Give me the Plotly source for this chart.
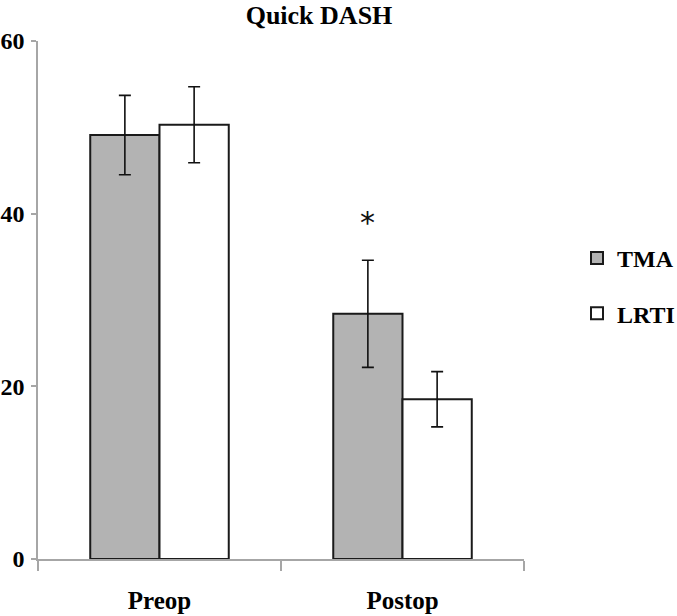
import plotly.graph_objects as go

categories = ["Preop", "Postop"]
series_names = ["TMA", "LRTI"]
tma_values = [49.1, 28.4]
tma_errors = [4.6, 6.2]
lrti_values = [50.3, 18.5]
lrti_errors = [4.4, 3.2]
y_ticks = [0, 20, 40, 60]
sig_category_index = 1   # Postop
sig_series_index = 0     # TMA
sig_y = 39.0
title_text = "Quick DASH"

FONT = "Liberation Serif"
BARGAP = 0.43

fig = go.Figure()
fills = ["#b3b3b3", "#ffffff"]
for i, (name, vals, errs) in enumerate(zip(series_names, [tma_values, lrti_values], [tma_errors, lrti_errors])):
    fig.add_trace(go.Bar(
        name=name, x=categories, y=vals,
        marker=dict(color=fills[i], line=dict(color="#1a1a1a", width=2)),
        error_y=dict(type="data", array=errs, visible=True, color="#111111", thickness=1.6, width=6),
        legendgroup=name,
    ))

# significance marker at center of the TMA bar in the Postop group
group_w = 1 - BARGAP
bar_w = group_w / len(series_names)
sig_x = sig_category_index - group_w / 2 + bar_w * (sig_series_index + 0.5)
fig.add_annotation(x=sig_x, y=sig_y, xref="x", yref="y", text="*", showarrow=False,
                   font=dict(family="DejaVu Sans", size=30, color="#111"), yanchor="middle")

fig.update_layout(
    width=677, height=616,
    margin=dict(l=38, r=153, t=41, b=57, autoexpand=False),
    paper_bgcolor="white", plot_bgcolor="white",
    barmode="group", bargap=BARGAP, bargroupgap=0,
    title=dict(text=title_text, x=319 / 677, xref="container", xanchor="center",
               y=1 - 15 / 616, yref="container", yanchor="middle",
               font=dict(family=FONT, size=26, color="#000", weight="bold")),
    font=dict(family=FONT, color="#000"),
    legend=dict(x=577 / 677, xref="container", y=1 - 236 / 616, yref="container",
                xanchor="left", yanchor="top", tracegroupgap=21,
                font=dict(family=FONT, size=24, color="#000", weight="bold"),
                bgcolor="rgba(0,0,0,0)"),
    showlegend=True,
)
fig.update_xaxes(showline=True, linecolor="#a6a6a6", linewidth=1.5, ticks="outside", tickson="boundaries",
                 ticklen=10, tickcolor="#a6a6a6", tickwidth=1.5, showgrid=False, automargin=False,
                 tickfont=dict(family=FONT, size=25, color="#000", weight="bold"), ticklabelstandoff=18)
fig.update_yaxes(range=[0, 60], tickvals=y_ticks, showline=True, linecolor="#a6a6a6", linewidth=1.5,
                 ticks="outside", ticklen=5, tickcolor="#a6a6a6", tickwidth=1.5, showgrid=False, zeroline=False,
                 automargin=False, ticklabelstandoff=2,
                 tickfont=dict(family=FONT, size=24, color="#000", weight="bold"))

fig.write_html("out.html", config={"displayModeBar": False},
               post_script="document.body.style.margin='0';document.body.style.overflow='hidden';")
